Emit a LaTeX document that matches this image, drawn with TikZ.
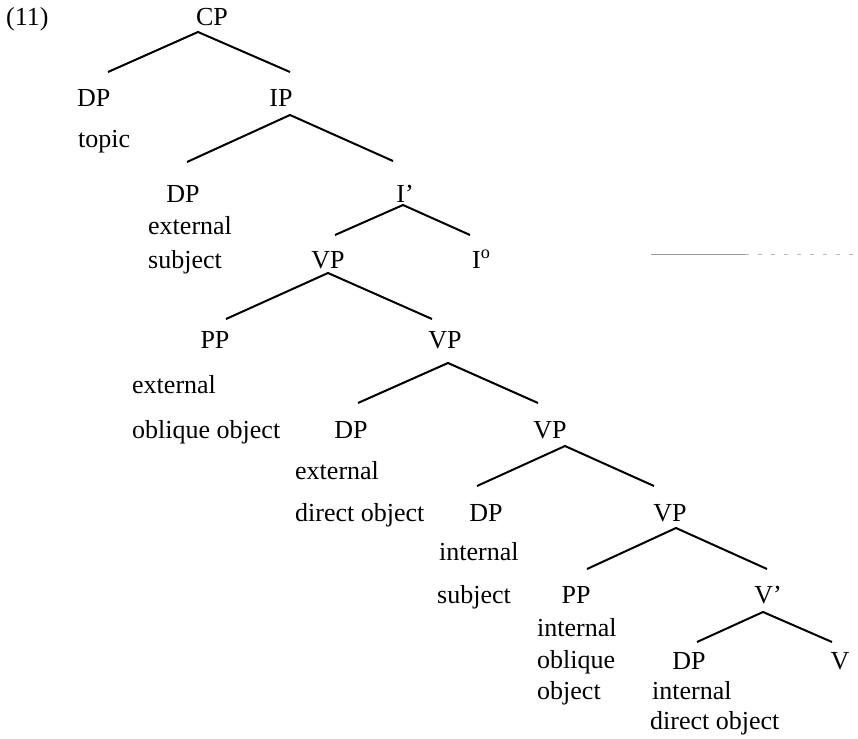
\documentclass[tikz,border=0pt]{standalone}
\usepackage{fontspec}
\setmainfont{Liberation Serif}
\begin{document}
\begin{tikzpicture}[x=1pt,y=-1pt,
  lab/.style={font=\fontsize{26}{30}\selectfont, inner sep=0pt, anchor=base},
  labw/.style={lab, anchor=base west},
  branch/.style={line width=2pt, line cap=butt}]
\useasboundingbox (0,0) rectangle (858,738);

% example number
\node[labw] (num) at (6,26) {(11)};

% ---- labels, row by row ----
\node[lab] (cp) at (212,26) {CP};

\node[labw] (dptop) at (77,107) {DP};
\node[lab] (ip) at (281,107) {IP};
\node[labw] (topic) at (78,148) {topic};

\node[lab] (dpext) at (183,202) {DP};
\node[lab] (ibar) at (405,202) {I’};
\node[labw] (extsubj1) at (148,234) {external};
\node[labw] (extsubj2) at (148,268) {subject};
\node[lab] (vp1) at (328,268) {VP};
\node[labw] (infl) at (472,268) {I\textsuperscript{o}};

\node[lab] (ppext) at (215,348) {PP};
\node[lab] (vp2) at (445,348) {VP};
\node[labw] (extobl1) at (132,393) {external};
\node[labw] (extobl2) at (132,438) {oblique object};

\node[lab] (dpdo) at (351,438) {DP};
\node[lab] (vp3) at (550,438) {VP};
\node[labw] (extdo1) at (295,479) {external};
\node[labw] (extdo2) at (295,521) {direct object};

\node[lab] (dpint) at (486,521) {DP};
\node[lab] (vp4) at (670,521) {VP};
\node[labw] (intsubj1) at (439,560) {internal};
\node[labw] (intsubj2) at (437,603) {subject};

\node[lab] (ppint) at (576,603) {PP};
\node[lab] (vbar) at (768,603) {V’};
\node[labw] (intobl1) at (537,636) {internal};
\node[labw] (intobl2) at (537,668) {oblique};
\node[labw] (intobl3) at (537,699) {object};

\node[lab] (dpido) at (689,669) {DP};
\node[lab] (verb) at (840,669) {V};
\node[labw] (intdo1) at (652,699) {internal};
\node[labw] (intdo2) at (650,729) {direct object};

% ---- branch points ----
\coordinate (cp-a) at (198,32);  \coordinate (cp-l) at (108,72);  \coordinate (cp-r) at (290,72);
\coordinate (ip-a) at (290,115); \coordinate (ip-l) at (187,162); \coordinate (ip-r) at (393,161);
\coordinate (ib-a) at (403,205); \coordinate (ib-l) at (335,235); \coordinate (ib-r) at (470,235);
\coordinate (v1-a) at (328,273); \coordinate (v1-l) at (226,319); \coordinate (v1-r) at (432,319);
\coordinate (v2-a) at (448,363); \coordinate (v2-l) at (358,403); \coordinate (v2-r) at (538,403);
\coordinate (v3-a) at (565,446); \coordinate (v3-l) at (477,486); \coordinate (v3-r) at (654,486);
\coordinate (v4-a) at (676,528); \coordinate (v4-l) at (587,569); \coordinate (v4-r) at (767,569);
\coordinate (vb-a) at (763,612); \coordinate (vb-l) at (697,642); \coordinate (vb-r) at (832,642);

% ---- branches ----
\foreach \p in {cp,ip,ib,v1,v2,v3,v4,vb}
  \draw[branch] (\p-l) -- (\p-a) -- (\p-r);

% faint rule at the right margin
\coordinate (rule-a) at (651,254);
\coordinate (rule-b) at (745,254);
\coordinate (rule-c) at (858,254);
\draw[gray!80, line width=1pt] (rule-a) -- (rule-b);
\draw[gray!55, line width=0.8pt, dash pattern=on 4pt off 9pt] (rule-b) -- (rule-c);
\end{tikzpicture}
\end{document}
